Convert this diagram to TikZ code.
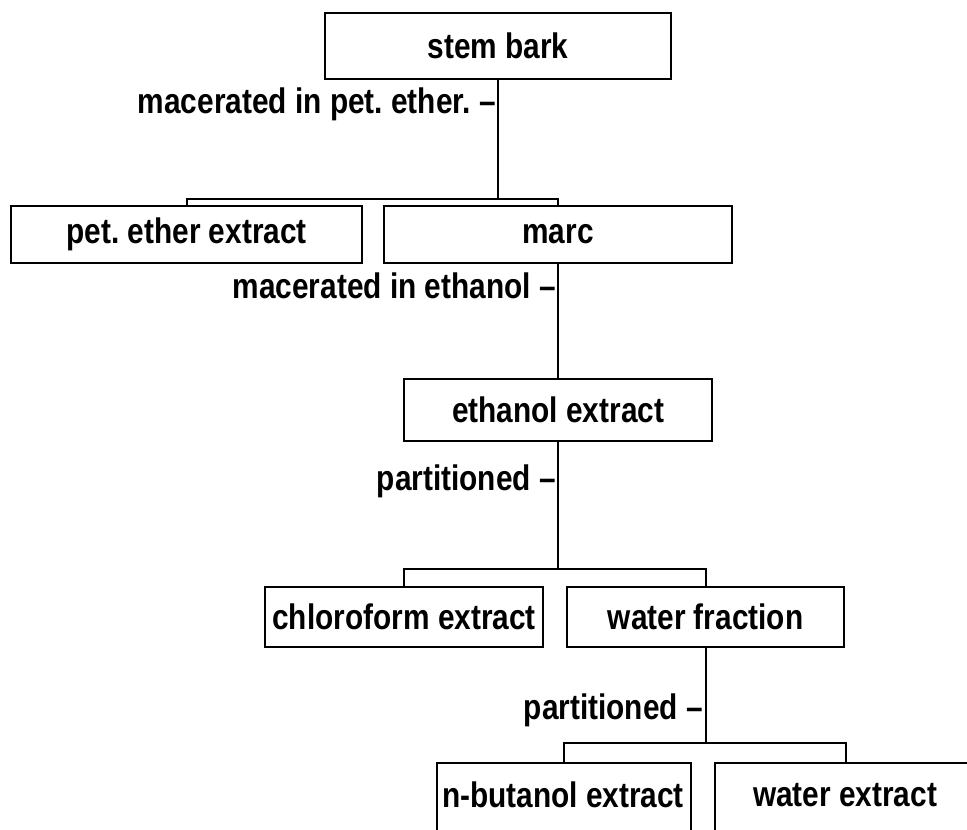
\documentclass[tikz,border=0pt]{standalone}
\usepackage{fontspec}
\setmainfont{Liberation Sans}[FakeStretch=0.84]
\frenchspacing
\begin{document}
\begin{tikzpicture}[x=1pt,y=-1pt,
  every node/.style={font=\fontsize{35.5}{40}\selectfont\bfseries},
  box/.style={draw, line width=2.2pt, inner sep=0pt, anchor=north west},
  conn/.style={line width=1.8pt},
  lab/.style={anchor=east, inner sep=0pt}]
\useasboundingbox (0,0) rectangle (967,830);
\fill[white] (0,0) rectangle (967,830);
\clip (0,0) rectangle (967,830);
% boxes
\node[box, minimum width=346pt, minimum height=66pt] (stem) at (324,12) {stem bark};
\node[box, minimum width=351pt, minimum height=57pt] (pet) at (10,205) {pet. ether extract};
\node[box, minimum width=348pt, minimum height=57pt] (marc) at (383,205) {marc};
\node[box, minimum width=308pt, minimum height=62pt] (eth) at (403,378) {ethanol extract};
\node[box, minimum width=278pt, minimum height=60pt] (chl) at (264,586) {chloroform extract};
\node[box, minimum width=277pt, minimum height=60pt] (wf) at (566,586) {water fraction};
\node[box, minimum width=254pt, minimum height=136pt] (but) at (436,762) {};
\node[box, minimum width=262pt, minimum height=136pt] (we) at (714,762) {};
\node at (563,795) (buttext) {n-butanol extract};
\node at (845,795) (wetext) {water extract};
% bracket joints
\path (stem.south) ++(0,119) coordinate (b1);
\path (eth.south) ++(0,127) coordinate (b2);
\path (wf.south) ++(0,95) coordinate (b3);
% connectors
\draw[conn] (stem.south) -- (b1);
\draw[conn] (pet.north) |- (b1) -| (marc.north);
\draw[conn] (marc.south) -- (eth.north);
\draw[conn] (eth.south) -- (b2);
\draw[conn] (chl.north) |- (b2) -| (wf.north);
\draw[conn] (wf.south) -- (b3);
\draw[conn] (but.north) |- (b3) -| (we.north);
% step labels
\node[lab] (l1) at (496,104) {macerated in pet. ether. --};
\node[lab] (l2) at (556,286) {macerated in ethanol --};
\node[lab] (l3) at (556,481) {partitioned --};
\node[lab] (l4) at (703,710) {partitioned --};
\end{tikzpicture}
\end{document}
